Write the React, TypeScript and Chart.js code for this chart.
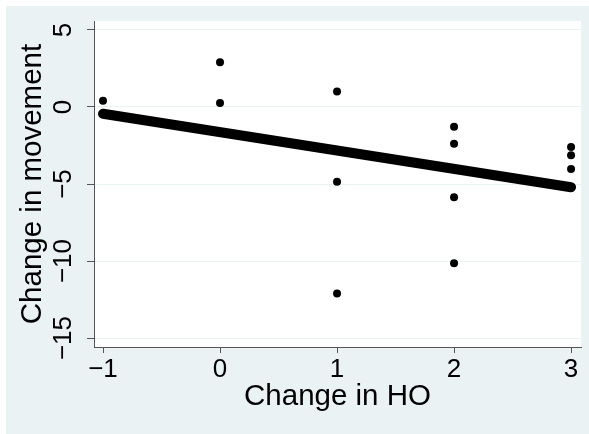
import React, { useEffect, useRef } from "react";
import { Chart, registerables } from "chart.js";

Chart.register(...registerables);

// Data
const changeHO = [-1, 0, 0, 1, 1, 1, 2, 2, 2, 2, 3, 3, 3];
const changeMovement = [0.4, 2.9, 0.25, 1.0, -4.85, -12.1, -1.28, -2.38, -5.86, -10.15, -2.6, -3.14, -4.03];
const fitX = [-1, 3];
const fitY = [-0.44, -5.21];
const xTicks = [-1, 0, 1, 2, 3];
const yTicks = [-15, -10, -5, 0, 5];
const xTitle = "Change in HO";
const yTitle = "Change in movement";

const FONT = "'Liberation Sans', Arial, Helvetica, sans-serif";
const BG = "#EAF2F3";
const AXIS = "#555555";

const fmt = (v: number | string) => {
  const n = Number(v);
  return n < 0 ? "\u2212" + Math.abs(n) : String(n);
};

const plotBg = {
  id: "plotBg",
  beforeDraw(chart: any) {
    const { ctx, chartArea: a } = chart;
    ctx.save();
    ctx.fillStyle = "#ffffff";
    ctx.fillRect(a.left, a.top, a.right - a.left, a.bottom - a.top);
    ctx.restore();
  },
};

export default function App() {
  const ref = useRef<HTMLCanvasElement | null>(null);

  useEffect(() => {
    if (!ref.current) return;
    const chart = new Chart(ref.current, {
      type: "scatter",
      data: {
        datasets: [
          {
            label: "fit",
            data: fitX.map((x, i) => ({ x, y: fitY[i] })),
            showLine: true,
            borderColor: "#000000",
            borderWidth: 10,
            borderCapStyle: "round",
            pointRadius: 0,
            order: 2,
          } as any,
          {
            label: "points",
            data: changeHO.map((x, i) => ({ x, y: changeMovement[i] })),
            pointRadius: 4,
            pointBackgroundColor: "#000000",
            pointBorderWidth: 0,
            backgroundColor: "#000000",
            order: 1,
          } as any,
        ],
      },
      options: {
        responsive: false,
        animation: false,
        devicePixelRatio: 1,
        layout: { padding: { top: 15, right: 8, left: 0, bottom: 0 } },
        plugins: { legend: { display: false }, tooltip: { enabled: false } },
        scales: {
          x: {
            type: "linear",
            min: -1.077,
            max: 3.085,
            afterBuildTicks: (s: any) => {
              s.ticks = xTicks.map((v) => ({ value: v }));
            },
            afterFit: (s: any) => {
              s.height = 87;
              s.paddingLeft = 0;
              s.paddingRight = 0;
            },
            ticks: {
              callback: (v: any) => fmt(v),
              font: { family: FONT, size: 26 },
              color: "#000000",
              padding: 1,
              maxRotation: 0,
              minRotation: 0,
              autoSkip: false,
            },
            grid: {
              drawOnChartArea: false,
              drawTicks: true,
              tickLength: 6,
              tickColor: AXIS,
              tickWidth: 1,
            },
            border: { display: true, color: AXIS, width: 1 },
            title: {
              display: true,
              text: xTitle,
              color: "#000000",
              font: { family: FONT, size: 29.5 },
              padding: { top: 0, bottom: 19 },
            },
          },
          y: {
            type: "linear",
            min: -15.58,
            max: 5.58,
            afterBuildTicks: (s: any) => {
              s.ticks = yTicks.map((v) => ({ value: v }));
            },
            afterFit: (s: any) => {
              s.width = 88;
              s.paddingTop = 0;
              s.paddingBottom = 0;
            },
            ticks: {
              callback: (v: any) => fmt(v),
              font: { family: FONT, size: 26 },
              color: "#000000",
              padding: 1,
              minRotation: 90,
              maxRotation: 90,
              crossAlign: "center",
              autoSkip: false,
            },
            grid: {
              color: BG,
              lineWidth: 1,
              drawTicks: true,
              tickLength: 7,
              tickColor: AXIS,
              tickWidth: 1,
            },
            border: { display: true, color: AXIS, width: 1 },
            title: {
              display: true,
              text: yTitle,
              color: "#000000",
              font: { family: FONT, size: 29.5 },
              padding: { top: 9.4, bottom: 0 },
            },
          },
        },
      } as any,
      plugins: [plotBg],
    });
    return () => chart.destroy();
  }, []);

  return (
    <div
      style={{
        position: "fixed",
        left: 0,
        top: 0,
        width: 589,
        height: 434,
        background: "#ffffff",
      }}
    >
      <div
        style={{
          position: "absolute",
          left: 6,
          top: 6,
          width: 583,
          height: 428,
          background: BG,
        }}
      >
        <canvas ref={ref} width={583} height={428} style={{ display: "block", width: 583, height: 428 }} />
      </div>
    </div>
  );
}
